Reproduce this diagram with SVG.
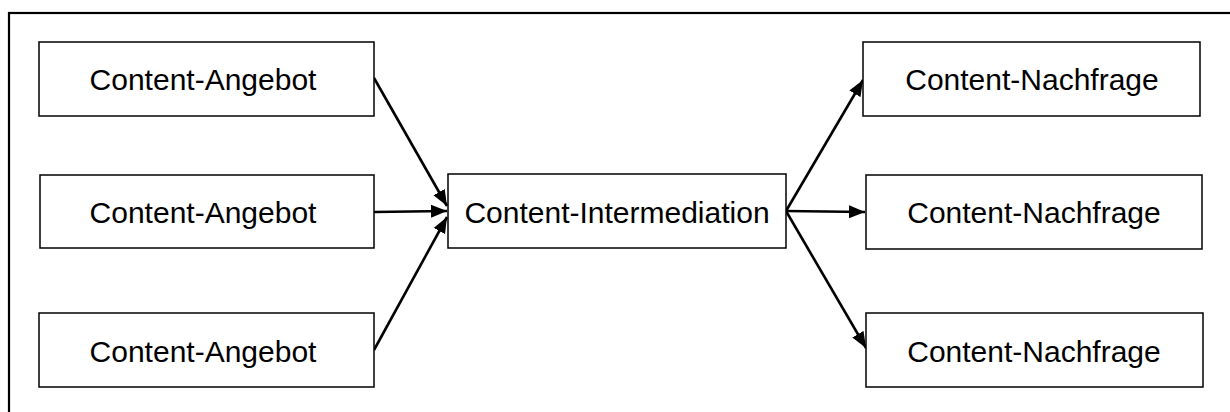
<svg xmlns="http://www.w3.org/2000/svg" width="1230" height="412" viewBox="0 0 1230 412">
<style>
.box{fill:#fff;stroke:#000;stroke-width:1.5}
.lbl{font-family:"Liberation Sans",Arial,sans-serif;font-size:30px;fill:#000;text-anchor:middle}
.con{stroke:#000;stroke-width:2.6;fill:none;marker-end:url(#arr)}
</style>
<defs>
<marker id="arr" markerUnits="userSpaceOnUse" markerWidth="18" markerHeight="14" refX="16" refY="7" orient="auto">
<path d="M0,0.5 L16,7 L0,13.5 Z" fill="#000"/>
</marker>
</defs>
<rect x="9" y="13" width="1300" height="500" fill="#fff" stroke="#000" stroke-width="2.2"/>
<g id="connectors">
<line class="con" x1="374" y1="78" x2="447" y2="206"/>
<line class="con" x1="374" y1="212" x2="447" y2="211"/>
<line class="con" x1="374" y1="350" x2="447" y2="217"/>
<line class="con" x1="786" y1="211" x2="863" y2="80"/>
<line class="con" x1="786" y1="211" x2="865" y2="212"/>
<line class="con" x1="786" y1="211" x2="866" y2="348"/>
</g>
<g id="angebot1"><rect class="box" x="39" y="42" width="335" height="74"/><text class="lbl" x="203" y="90">Content-Angebot</text></g>
<g id="angebot2"><rect class="box" x="40" y="175" width="334" height="73"/><text class="lbl" x="203" y="223">Content-Angebot</text></g>
<g id="angebot3"><rect class="box" x="39" y="313" width="335" height="74"/><text class="lbl" x="203" y="362">Content-Angebot</text></g>
<g id="intermediation"><rect class="box" x="448" y="174" width="338" height="74"/><text class="lbl" x="617" y="223">Content-Intermediation</text></g>
<g id="nachfrage1"><rect class="box" x="863" y="42" width="337" height="74"/><text class="lbl" x="1032" y="90">Content-Nachfrage</text></g>
<g id="nachfrage2"><rect class="box" x="866" y="175" width="336" height="74"/><text class="lbl" x="1034" y="223">Content-Nachfrage</text></g>
<g id="nachfrage3"><rect class="box" x="866" y="313" width="337" height="74"/><text class="lbl" x="1034" y="362">Content-Nachfrage</text></g>
</svg>
